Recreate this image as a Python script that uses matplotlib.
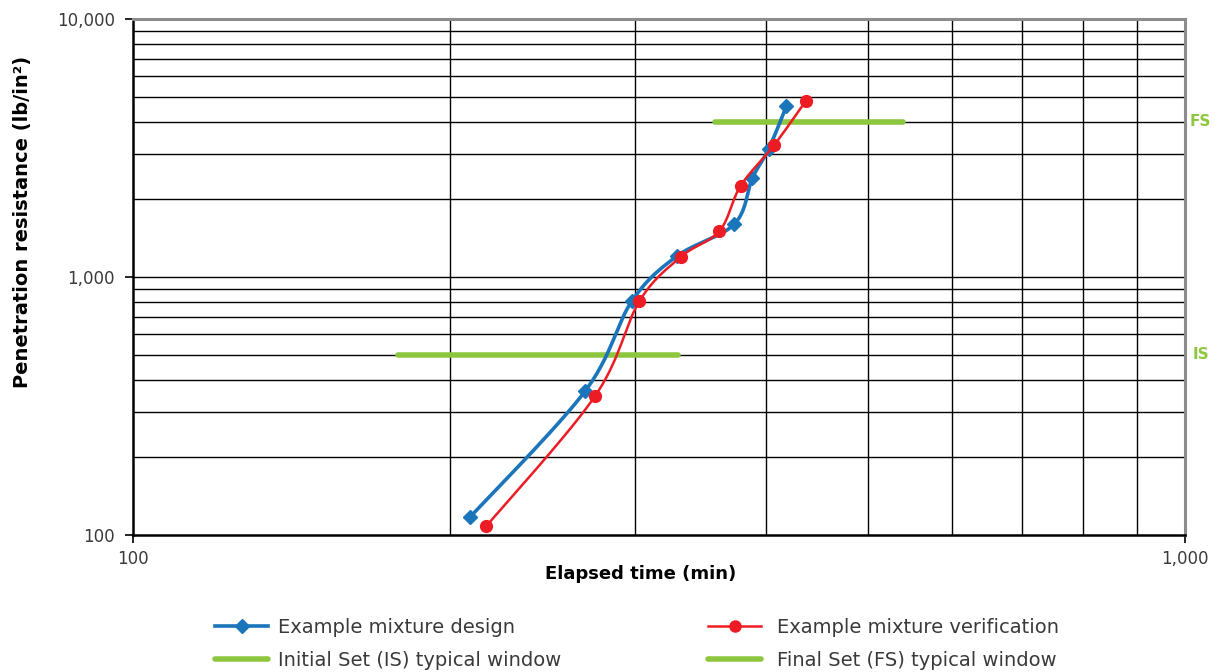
import numpy as np
import matplotlib
matplotlib.use("Agg")
import matplotlib.pyplot as plt
import matplotlib.transforms as mtrans
from matplotlib.ticker import FixedLocator, FuncFormatter
from matplotlib.lines import Line2D

# Penetration resistance test data (time in min, resistance in lb/in²)
design_time = [209, 269, 298, 329, 373, 388, 402, 418]
design_resist = [117, 361, 807, 1206, 1605, 2420, 3134, 4600]

verif_time = [216.6, 275, 303, 332, 361, 378, 407, 436]
verif_resist = [108, 346, 807, 1200, 1508, 2252, 3250, 4810]

# Typical set windows
is_window = [178.6, 330]
is_level = 500
fs_window = [357.5, 540]
fs_level = 4000

BLUE = "#1B75BB"
RED = "#ED1C24"
GREEN = "#8DC63F"
TEXT = "#3a3a3a"

plt.rcParams["font.family"] = ["DejaVu Sans"]

W, H = 1220, 672


def smooth(xs, ys, n=30):
    """Cardinal (Catmull-Rom style) smoothing in log-log space."""
    lx = np.log10(np.asarray(xs, float))
    ly = np.log10(np.asarray(ys, float))
    P = np.column_stack([lx, ly])
    out = [P[0]]
    m = len(P)
    for i in range(m - 1):
        p0 = P[i - 1] if i > 0 else P[i]
        p1 = P[i]
        p2 = P[i + 1]
        p3 = P[i + 2] if i + 2 < m else P[i + 1]
        c1 = p1 + (p2 - p0) / 6.0
        c2 = p2 - (p3 - p1) / 6.0
        t = np.linspace(0, 1, n)[1:, None]
        seg = ((1 - t) ** 3) * p1 + 3 * ((1 - t) ** 2) * t * c1 + 3 * (1 - t) * t ** 2 * c2 + t ** 3 * p2
        out.extend(seg)
    out = np.array(out)
    return 10 ** out[:, 0], 10 ** out[:, 1]


fig = plt.figure(figsize=(W / 100, H / 100), dpi=100)
ax = fig.add_axes([133 / W, 1 - 535 / H, (1185 - 133) / W, (535 - 19) / H])
ax.set_xscale("log")
ax.set_yscale("log")
ax.set_xlim(100, 1000)
ax.set_ylim(100, 10000)

# Grid
minor_x = [v * 100 for v in range(2, 10)]
minor_y = [v * d for d in (100, 1000) for v in range(2, 10)]
for v in minor_x:
    ax.axvline(v, color="black", lw=1.0, zorder=1)
for v in minor_y + [1000]:
    ax.axhline(v, color="black", lw=1.0, zorder=1)

ax.xaxis.set_major_locator(FixedLocator([100, 1000]))
ax.yaxis.set_major_locator(FixedLocator([100, 1000, 10000]))
ax.xaxis.set_minor_locator(FixedLocator([]))
ax.yaxis.set_minor_locator(FixedLocator([]))
fmt = FuncFormatter(lambda v, p: f"{int(round(v)):,}")
ax.xaxis.set_major_formatter(fmt)
ax.yaxis.set_major_formatter(fmt)
ax.tick_params(axis="both", which="major", length=6, width=1.2, color="black",
               labelsize=12, labelcolor=TEXT, direction="out")
ax.tick_params(axis="x", pad=5)
ax.tick_params(axis="y", pad=7)

for s in ("left", "bottom"):
    ax.spines[s].set_color("black")
    ax.spines[s].set_linewidth(1.8)
for s in ("top", "right"):
    ax.spines[s].set_color("#8c8c8c")
    ax.spines[s].set_linewidth(2.2)

# Set windows
ax.plot(is_window, [is_level, is_level], color=GREEN, lw=4, solid_capstyle="round", zorder=3)
ax.plot(fs_window, [fs_level, fs_level], color=GREEN, lw=4, solid_capstyle="round", zorder=3)

# Series
sx, sy = smooth(design_time, design_resist)
ax.plot(sx, sy, color=BLUE, lw=2.6, zorder=4)
ax.plot(design_time, design_resist, ls="none", marker="D", ms=7.5, color=BLUE, zorder=5)

rx, ry = smooth(verif_time, verif_resist)
ax.plot(rx, ry, color=RED, lw=1.8, zorder=6)
ax.plot(verif_time, verif_resist, ls="none", marker="o", ms=8.5, color=RED, zorder=7)

# Set-level tags on the right edge
tr = mtrans.blended_transform_factory(ax.transAxes, ax.transData)
ax.text(1 + 5 / 1052, fs_level, "FS", transform=tr, color=GREEN, fontsize=11,
        fontweight="bold", ha="left", va="center")
ax.text(1 + 8 / 1052, is_level, "IS", transform=tr, color=GREEN, fontsize=11,
        fontweight="bold", ha="left", va="center")

# Axis titles
fig.text(641 / W, 1 - 574 / H, "Elapsed time (min)", fontsize=13, fontweight="bold",
         ha="center", va="center", color="black")
fig.text(23 / W, 1 - 222 / H, "Penetration resistance (lb/in²)", fontsize=14,
         fontweight="bold", ha="center", va="center", rotation=90, color="black")

# Legend: two columns laid out as separate blocks
left_handles = [
    Line2D([], [], color=BLUE, lw=2.6, marker="D", ms=7),
    Line2D([], [], color=GREEN, lw=4, solid_capstyle="round"),
]
left_labels = ["Example mixture design", "Initial Set (IS) typical window"]
right_handles = [
    Line2D([], [], color=RED, lw=1.8, marker="o", ms=8),
    Line2D([], [], color=GREEN, lw=4, solid_capstyle="round"),
]
right_labels = ["Example mixture verification", "Final Set (FS) typical window"]

common = dict(loc="upper left", frameon=False, fontsize=14, borderpad=0,
              borderaxespad=0, handlelength=2.73, labelspacing=0.72, labelcolor=TEXT)
leg1 = fig.legend(left_handles, left_labels, bbox_to_anchor=(215 / W, 1 - 618 / H),
                  handletextpad=0.52, **common)
leg2 = fig.legend(right_handles, right_labels, bbox_to_anchor=(708 / W, 1 - 618 / H),
                  handletextpad=0.8, **common)

fig.savefig("out.png", dpi=100)
